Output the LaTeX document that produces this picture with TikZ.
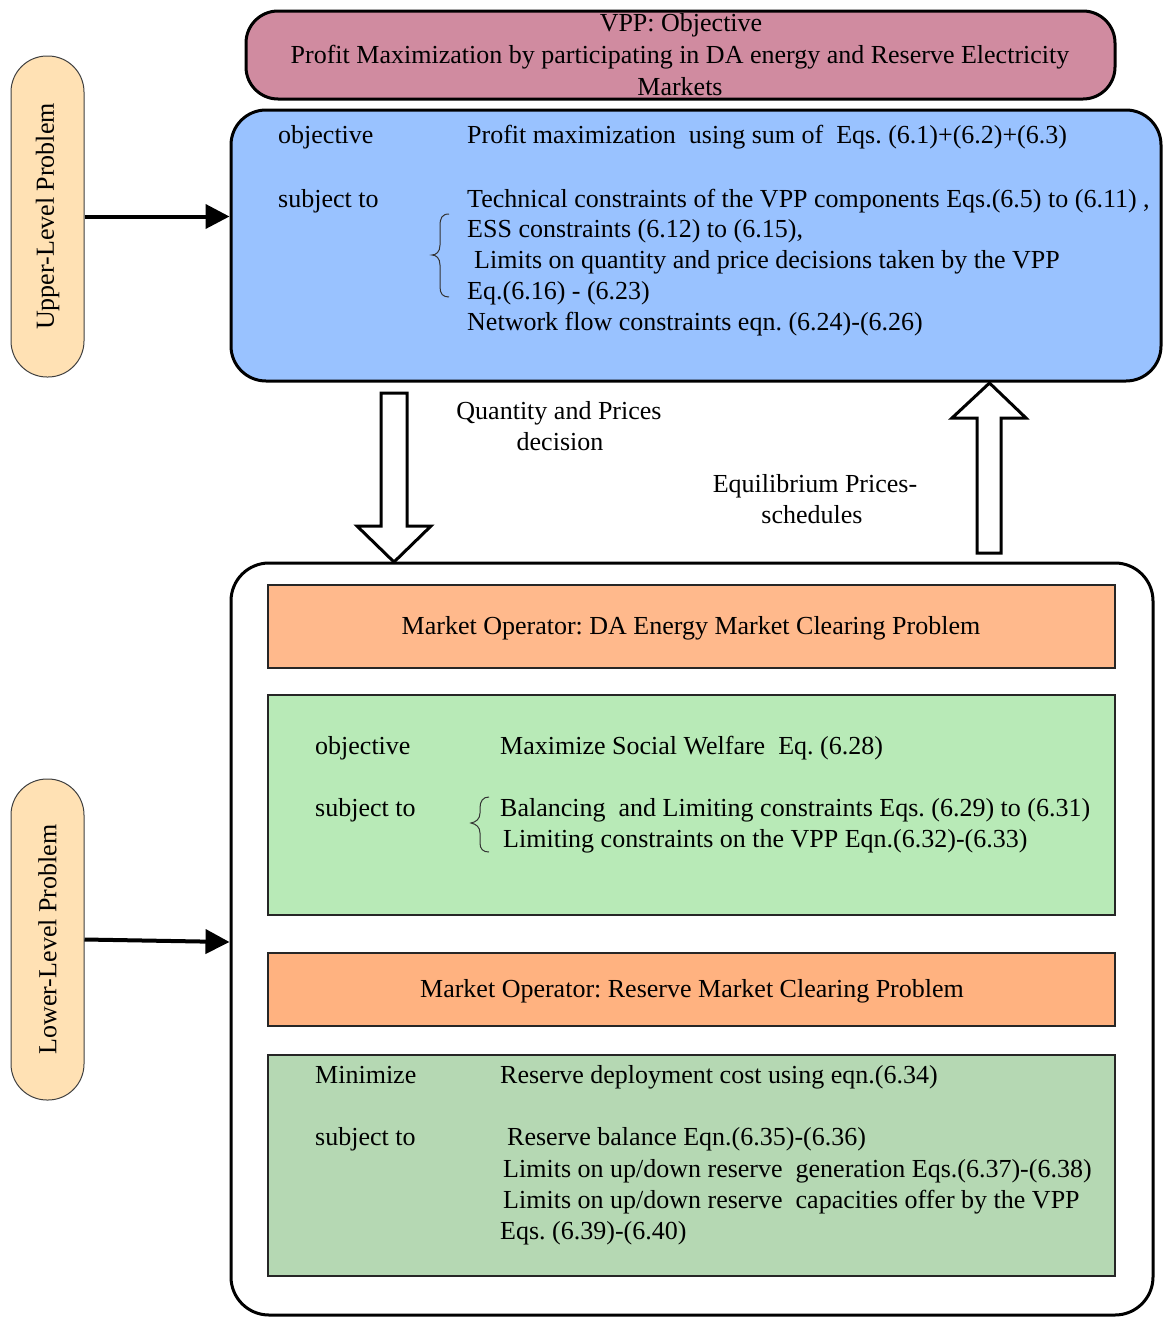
\documentclass[tikz,border=0pt]{standalone}
\usepackage{fontspec}
\setmainfont{Liberation Serif}
\usetikzlibrary{arrows.meta}
\frenchspacing

\definecolor{vppfill}{RGB}{208,139,160}
\definecolor{upperfill}{RGB}{153,194,255}
\definecolor{pillfill}{RGB}{255,225,180}
\definecolor{mofillA}{RGB}{255,185,140}
\definecolor{mofillB}{RGB}{255,178,128}
\definecolor{greenA}{RGB}{184,234,183}
\definecolor{greenB}{RGB}{181,216,179}

\begin{document}
\begin{tikzpicture}[x=1pt,y=-1pt,
  box/.style={inner sep=0pt, draw=black},
  bigbox/.style={box, line width=3pt},
  innerbox/.style={box, line width=1.8pt, draw=black!85,
    minimum width=847pt},
  pill/.style={inner sep=0pt, draw=black!75, line width=1pt, fill=pillfill,
    minimum width=73pt, minimum height=321pt, rounded corners=36pt,
    font=\fontsize{26}{31}\selectfont},
  txt/.style={inner sep=0pt, anchor=base west, font=\fontsize{26}{31}\selectfont},
  ctxt/.style={txt, anchor=base},
  link/.style={line width=4pt, -{Triangle[length=24pt,width=24pt]}},
  blockarrow/.style={draw=black, line width=3pt, fill=white, line join=miter},
  brace/.style={draw=black!80, line width=1pt}
]
\useasboundingbox (0,0) rectangle (1163,1317);

% ---------- upper level ----------
\node[bigbox, fill=vppfill, minimum width=869pt, minimum height=88pt,
  rounded corners=32pt] (vpp) at (680.5,55) {};
\node[ctxt] (vppA) at (681,31) {VPP: Objective};
\node[ctxt] (vppB) at (680,63) {Profit Maximization by participating in DA energy and Reserve Electricity};
\node[ctxt] (vppC) at (680,95) {Markets};

\node[bigbox, fill=upperfill, minimum width=930pt, minimum height=271pt,
  rounded corners=35pt] (upper) at (696,245.5) {};
\node[txt] (uobj) at (278,143) {objective};
\node[txt] (uobjt) at (467,143) {Profit maximization\ \ using sum of\ \ Eqs. (6.1)+(6.2)+(6.3)};
\node[txt] (usub) at (278,207) {subject to};
\node[txt] (uc1) at (467,207) {Technical constraints of the VPP components Eqs.(6.5) to (6.11) ,};
\node[txt] (uc2) at (467,237) {ESS constraints (6.12) to (6.15),};
\node[txt] (uc3) at (474,268) {Limits on quantity and price decisions taken by the VPP};
\node[txt] (uc4) at (467,299) {Eq.(6.16) - (6.23)};
\node[txt] (uc5) at (467,330) {Network flow constraints eqn. (6.24)-(6.26)};
\draw[brace] (449,214) .. controls (442,214) and (440,218) .. (440,226)
  -- (440,245) .. controls (440,252) and (436,255) .. (432,255)
  .. controls (436,255) and (440,258) .. (440,265)
  -- (440,287) .. controls (440,294) and (443,297) .. (449,297);

% ---------- lower level ----------
\node[bigbox, fill=white, minimum width=922pt, minimum height=752pt,
  rounded corners=38pt] (lower) at (692,939) {};

\node[innerbox, fill=mofillA, minimum height=83pt] (daop) at (691.5,626.5) {};
\node[ctxt] (daopt) at (691,634) {Market Operator: DA Energy Market Clearing Problem};

\node[innerbox, fill=greenA, minimum height=220pt] (da) at (691.5,805) {};
\node[txt] (dobj) at (315,754) {objective};
\node[txt] (dobjt) at (500,754) {Maximize Social Welfare\ \ Eq. (6.28)};
\node[txt] (dsub) at (315,816) {subject to};
\node[txt] (dc1) at (500,816) {Balancing\ \ and Limiting constraints Eqs. (6.29) to (6.31)};
\node[txt] (dc2) at (503,847) {Limiting constraints on the VPP Eqn.(6.32)-(6.33)};
\draw[brace] (489,797) .. controls (483,797) and (480,801) .. (480,808)
  -- (480,813) .. controls (480,819) and (476,822) .. (471,823)
  .. controls (476,824) and (480,827) .. (480,833)
  -- (480,843) .. controls (480,849) and (483,852) .. (489,852);

\node[innerbox, fill=mofillB, minimum height=73pt] (rsop) at (691.5,989.5) {};
\node[ctxt] (rsopt) at (692,997) {Market Operator: Reserve Market Clearing Problem};

\node[innerbox, fill=greenB, minimum height=221pt] (rs) at (691.5,1165.5) {};
\node[txt] (robj) at (315,1083) {Minimize};
\node[txt] (robjt) at (500,1083) {Reserve deployment cost using eqn.(6.34)};
\node[txt] (rsub) at (315,1145) {subject to};
\node[txt] (rc1) at (507,1145) {Reserve balance Eqn.(6.35)-(6.36)};
\node[txt] (rc2) at (503,1177) {Limits on up/down reserve\ \ generation Eqs.(6.37)-(6.38)};
\node[txt] (rc3) at (503,1208) {Limits on up/down reserve\ \ capacities offer by the VPP};
\node[txt] (rc4) at (500,1239) {Eqs. (6.39)-(6.40)};

% ---------- level labels ----------
\node[pill] (ulabel) at (47.5,216.5) {\rotatebox{90}{Upper-Level Problem}};
\node[pill] (llabel) at (47.5,939.5) {\rotatebox{90}{Lower-Level Problem}};
\draw[link] (ulabel.east) -- (ulabel.east -| upper.west);
\draw[link] (llabel.east) -- (lower.west |- 0,942);

% ---------- exchange between the levels ----------
\draw[blockarrow] (381,393) -- (381,526) -- (357,526) -- (394,562)
  -- (431,526) -- (407,526) -- (407,393) -- cycle;
\draw[blockarrow] (977,553) -- (977,418) -- (952,418) -- (989.5,383)
  -- (1026,418) -- (1001,418) -- (1001,553) -- cycle;
\node[ctxt] (qp1) at (559,419) {Quantity and Prices};
\node[ctxt] (qp2) at (560,450) {decision};
\node[ctxt] (ep1) at (815,492) {Equilibrium Prices-};
\node[ctxt] (ep2) at (812,523) {schedules};
\end{tikzpicture}
\end{document}
